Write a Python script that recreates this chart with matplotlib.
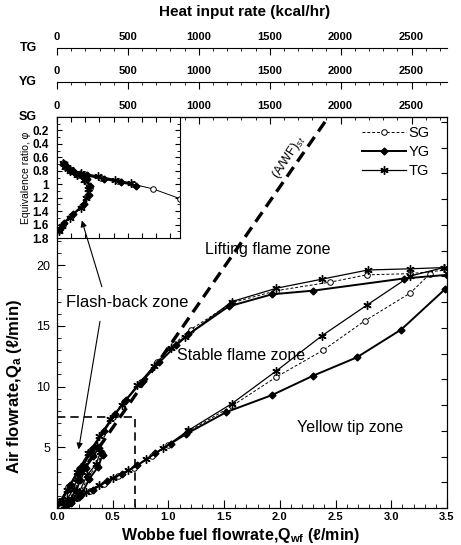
import matplotlib
matplotlib.use('Agg')
import matplotlib.pyplot as plt
from matplotlib.ticker import MultipleLocator, FormatStrFormatter

plt.rcParams['font.family'] = ['Liberation Sans', 'DejaVu Sans']
plt.rcParams['mathtext.fontset'] = 'custom'
plt.rcParams['mathtext.rm'] = 'Liberation Sans'
plt.rcParams['mathtext.bf'] = 'Liberation Sans:bold'
plt.rcParams['mathtext.it'] = 'Liberation Sans:italic'

# lifting limit (upper curves), Wobbe fuel flowrate vs air flowrate
lift_x_sg = [0.03, 0.1, 0.2, 0.3, 0.4, 0.5, 0.6, 0.75, 0.9, 1.05, 1.2, 1.57, 1.97, 2.45, 2.78, 3.17, 3.5]
lift_y_sg = [0.6, 1.7, 3.2, 4.7, 6.1, 7.5, 8.7, 10.4, 12.0, 13.5, 14.7, 16.9, 17.9, 18.6, 19.2, 19.3, 19.6]
lift_x_yg = [0.04, 0.12, 0.22, 0.32, 0.42, 0.52, 0.62, 0.77, 0.92, 1.07, 1.18, 1.54, 1.93, 2.30, 3.11, 3.5]
lift_y_yg = [0.5, 1.9, 3.4, 4.9, 6.3, 7.7, 8.9, 10.5, 12.0, 13.4, 14.3, 16.6, 17.6, 17.9, 18.9, 19.2]
lift_x_tg = [0.02, 0.09, 0.18, 0.28, 0.38, 0.48, 0.58, 0.72, 0.87, 1.02, 1.15, 1.57, 1.97, 2.38, 2.79, 3.17, 3.47]
lift_y_tg = [0.5, 1.5, 3.0, 4.5, 5.9, 7.3, 8.5, 10.1, 11.7, 13.2, 14.1, 17.0, 18.1, 18.85, 19.6, 19.7, 19.8]

# yellow tip limit (lower curves)
yt_x_sg = [0.08, 0.18, 0.3, 0.42, 0.55, 0.69, 0.85, 1.0, 1.18, 1.57, 1.97, 2.39, 2.76, 3.17, 3.35]
yt_y_sg = [0.3, 0.8, 1.4, 2.0, 2.6, 3.3, 4.3, 5.2, 6.3, 8.4, 10.8, 13.0, 15.4, 17.7, 19.3]
yt_x_yg = [0.1, 0.2, 0.32, 0.45, 0.58, 0.72, 0.88, 1.02, 1.16, 1.52, 1.93, 2.30, 2.69, 3.09, 3.48]
yt_y_yg = [0.3, 0.9, 1.5, 2.2, 2.8, 3.5, 4.5, 5.3, 6.1, 7.9, 9.3, 10.9, 12.4, 14.7, 18.0]
yt_x_tg = [0.06, 0.15, 0.26, 0.38, 0.5, 0.64, 0.8, 0.95, 1.18, 1.57, 1.97, 2.38, 2.78, 3.17, 3.47]
yt_y_tg = [0.2, 0.7, 1.3, 1.9, 2.5, 3.1, 4.0, 4.9, 6.4, 8.6, 11.3, 14.2, 16.7, 19.1, 19.8]

# flash-back loops near origin
fb_x_sg = [0.10, 0.165, 0.19, 0.25, 0.31, 0.37, 0.40, 0.36, 0.28, 0.21, 0.12]
fb_y_sg = [0.66, 1.5, 2.3, 3.4, 4.4, 5.0, 4.5, 3.5, 2.6, 1.2, 0.5]
fb_x_yg = [0.11, 0.17, 0.21, 0.26, 0.32, 0.38, 0.41, 0.37, 0.29, 0.22, 0.13]
fb_y_yg = [0.6, 1.4, 2.3, 3.3, 4.3, 4.9, 4.4, 3.4, 2.4, 1.1, 0.45]
fb_x_tg = [0.09, 0.15, 0.18, 0.24, 0.30, 0.36, 0.39, 0.35, 0.27, 0.20, 0.11]
fb_y_tg = [0.7, 1.6, 2.4, 3.5, 4.5, 5.1, 4.6, 3.6, 2.7, 1.3, 0.55]

# stoichiometric line
afst_x = [0.0, 2.42]
afst_y = [0.0, 32.0]

# zoomed region
box_x = [0.0, 0.7, 0.7]
box_y = [7.5, 7.5, 0.0]

# inset: equivalence ratio
in_nose_x_sg = [0.016, 0.04, 0.098, 0.18, 0.215, 0.23, 0.20, 0.15, 0.10, 0.06, 0.045]
in_nose_p_sg = [1.68, 1.60, 1.48, 1.33, 1.18, 1.05, 0.93, 0.86, 0.80, 0.74, 0.69]
in_nose_x_yg = [0.02, 0.05, 0.11, 0.19, 0.225, 0.235, 0.21, 0.16, 0.11, 0.07, 0.05]
in_nose_p_yg = [1.66, 1.57, 1.45, 1.30, 1.16, 1.03, 0.92, 0.85, 0.80, 0.75, 0.70]
in_nose_x_tg = [0.012, 0.035, 0.09, 0.17, 0.205, 0.22, 0.19, 0.14, 0.09, 0.055, 0.04]
in_nose_p_tg = [1.70, 1.62, 1.50, 1.35, 1.20, 1.07, 0.94, 0.87, 0.81, 0.75, 0.68]
in_lift_x_sg = [0.06, 0.10, 0.19, 0.31, 0.43, 0.54, 0.68, 0.87]
in_lift_p_sg = [0.72, 0.80, 0.85, 0.90, 0.95, 1.0, 1.07, 1.215]
in_lift_x_yg = [0.07, 0.12, 0.21, 0.33, 0.45, 0.56]
in_lift_p_yg = [0.75, 0.82, 0.87, 0.92, 0.97, 1.02]
in_lift_x_tg = [0.05, 0.09, 0.17, 0.29, 0.41, 0.52]
in_lift_p_tg = [0.70, 0.78, 0.83, 0.88, 0.93, 0.98]

heat_max = 2750

sty = {
    'SG': dict(color='k', lw=0.7, ls=(0, (3, 2)), marker='o', ms=4, mfc='white', mew=0.7),
    'YG': dict(color='k', lw=1.4, ls='-', marker='D', ms=3.5),
    'TG': dict(color='k', lw=0.9, ls='-', marker=(6, 2, 0), ms=6, mew=1.0),
}

fig = plt.figure(figsize=(4.61, 5.45), dpi=100)
ax = fig.add_axes([0.1236, 0.0679, 0.846, 0.7174])

lines = []
for g, lx, ly, yx, yy, fx, fy in [('SG', lift_x_sg, lift_y_sg, yt_x_sg, yt_y_sg, fb_x_sg, fb_y_sg),
                                   ('YG', lift_x_yg, lift_y_yg, yt_x_yg, yt_y_yg, fb_x_yg, fb_y_yg),
                                   ('TG', lift_x_tg, lift_y_tg, yt_x_tg, yt_y_tg, fb_x_tg, fb_y_tg)]:
    l, = ax.plot(lx, ly, label=g, **sty[g])
    ax.plot(yx, yy, **sty[g])
    ax.plot(fx, fy, **sty[g])
    lines.append(l)

ax.plot(afst_x, afst_y, color='k', lw=2.4, dashes=(3.5, 2))
ax.plot(box_x, box_y, color='k', lw=1.2, dashes=(5, 3))

ax.set_xlim(0, 3.5)
ax.set_ylim(0, 32.2)
ax.xaxis.set_major_locator(MultipleLocator(0.5))
ax.xaxis.set_minor_locator(MultipleLocator(0.1))
ax.xaxis.set_major_formatter(FormatStrFormatter('%.1f'))
ax.set_yticks([5, 10, 15, 20])
ax.set_yticks(range(0, 23), minor=True)
ax.tick_params(which='both', direction='in', top=False, right=False)
ax.tick_params(axis='x', which='major', length=6, pad=3, labelsize=8)
ax.tick_params(axis='x', which='minor', length=3)
ax.tick_params(axis='y', which='major', length=6, pad=5, labelsize=9)
ax.tick_params(axis='y', which='minor', length=3)
for t in ax.get_xticklabels():
    t.set_fontweight('bold')

ax.set_xlabel('Wobbe fuel flowrate,$\\mathbf{Q_{wf}}$ (\u2113/min)', fontsize=11.5, fontweight='bold')
ax.xaxis.set_label_coords(0.47, -0.046)
ax.set_ylabel('Air flowrate,$\\mathbf{Q_{a}}$ (\u2113/min)', fontsize=12, fontweight='bold')
ax.yaxis.set_label_coords(-0.085, 0.31)

# right side ticks
axr = ax.twinx()
axr.set_ylim(0, 32.2)
axr.yaxis.set_major_locator(MultipleLocator(2.12))
axr.tick_params(direction='in', length=4, labelright=False)

# zone labels
ax.text(1.89, 21.3, 'Lifting flame zone', fontsize=11.5, ha='center', va='center')
ax.text(1.65, 12.6, 'Stable flame zone', fontsize=11.5, ha='center', va='center')
ax.text(2.63, 6.6, 'Yellow tip zone', fontsize=11.5, ha='center', va='center')
ax.text(0.63, 16.9, 'Flash-back zone', fontsize=12, ha='center', va='center')
ax.text(2.08, 28.9, '(A/WF)$_{st}$', fontsize=9, ha='center', va='center', rotation=57)
ax.annotate('', xy=(0.19, 4.6), xytext=(0.39, 15.6),
            arrowprops=dict(arrowstyle='-|>', color='k', lw=0.8, mutation_scale=9))

ax.legend(handles=lines, loc='upper right', bbox_to_anchor=(0.99, 1.01), frameon=False,
          fontsize=10.5, handlelength=3.0, labelspacing=0.35, handletextpad=0.2)

# heat input rate axes on top
for name, off in [('SG', 0), ('YG', 25.2), ('TG', 49.7)]:
    axh = ax.twiny()
    axh.set_xlim(0, heat_max)
    for s in ['bottom', 'left', 'right']:
        axh.spines[s].set_visible(False)
    axh.spines['top'].set_position(('outward', off))
    axh.xaxis.set_major_locator(MultipleLocator(500))
    axh.xaxis.set_minor_locator(MultipleLocator(100))
    axh.tick_params(which='both', direction='in', top=True, bottom=False, labelsize=8, pad=4)
    axh.tick_params(which='major', length=5)
    axh.tick_params(which='minor', length=2.5)
    for t in axh.get_xticklabels():
        t.set_fontweight('bold')
    fig.text(0.061, 0.7853 + off / 72 * 100 / 545, name, fontsize=9, fontweight='bold',
             ha='center', va='center')

fig.text(0.53, 0.978, 'Heat input rate (kcal/hr)', fontsize=11, fontweight='bold',
         ha='center', va='center')

# inset
axi = fig.add_axes([0.1236, 0.5633, 0.2669, 0.222])
for g, nx, npp, lx, lp in [('SG', in_nose_x_sg, in_nose_p_sg, in_lift_x_sg, in_lift_p_sg),
                           ('YG', in_nose_x_yg, in_nose_p_yg, in_lift_x_yg, in_lift_p_yg),
                           ('TG', in_nose_x_tg, in_nose_p_tg, in_lift_x_tg, in_lift_p_tg)]:
    s = dict(sty[g])
    s['ls'] = '-'
    axi.plot(nx, npp, **s)
    axi.plot(lx, lp, **s)
axi.set_xlim(0, 0.87)
axi.set_ylim(1.8, 0)
axi.set_yticks([0.2, 0.4, 0.6, 0.8, 1.0, 1.2, 1.4, 1.6, 1.8])
axi.yaxis.set_major_formatter(FormatStrFormatter('%g'))
axi.xaxis.set_major_locator(MultipleLocator(0.1))
axi.yaxis.set_minor_locator(MultipleLocator(0.1))
axi.tick_params(which='both', direction='in', top=True, right=True, labelbottom=False)
axi.tick_params(which='major', length=3.5, labelsize=8.5, pad=6)
axi.tick_params(which='minor', length=2)
for t in axi.get_yticklabels():
    t.set_fontweight('bold')
axi.set_ylabel('Equivalence ratio, \u03c6', fontsize=7.5, labelpad=1)
axi.annotate('', xy=(0.17, 1.5), xycoords='data', xytext=(0.41, 18.0), textcoords=ax.transData,
             arrowprops=dict(arrowstyle='-|>', color='k', lw=0.8, mutation_scale=9))

fig.savefig('out.png', dpi=100)
